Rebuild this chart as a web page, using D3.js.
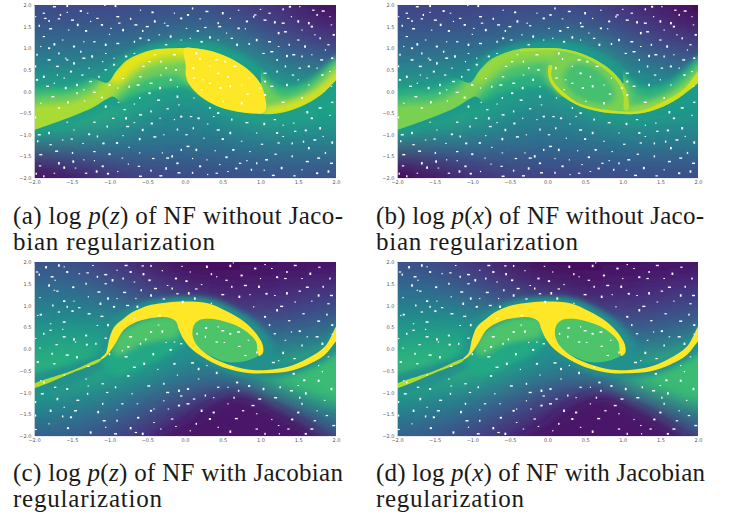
<!DOCTYPE html>
<html><head><meta charset="utf-8">
<script src="https://cdnjs.cloudflare.com/ajax/libs/d3/7.8.5/d3.min.js"></script>
<style>html,body{margin:0;background:#fff}svg{display:block}</style></head><body>
<svg id="c" width="730" height="516"></svg>
<script>
const gridX=[-2,-1.5,-1,-.5,0,.5,1,1.5,2];
const gridY=[2,1.5,1,.5,0,-.5,-1,-1.5,-2];
const tickValues=[-2,-1.5,-1,-.5,0,.5,1,1.5,2];

const gridA=[
[.22,.21,.21,.23,.24,.21,.15,.08,.00],
[.27,.27,.27,.28,.31,.29,.22,.15,.08],
[.36,.36,.37,.40,.50,.50,.34,.26,.20],
[.47,.47,.48,.55,.62,.62,.48,.40,.38],
[.60,.60,.62,.62,.52,.60,.60,.56,.62],
[.62,.66,.62,.50,.46,.52,.62,.60,.56],
[.52,.50,.45,.42,.40,.42,.45,.48,.48],
[.12,.20,.28,.30,.31,.31,.33,.33,.33],
[.02,.04,.11,.19,.20,.22,.25,.25,.24]];
const gridB=[
[.20,.19,.19,.21,.22,.20,.13,.06,.00],
[.25,.25,.25,.27,.29,.27,.20,.13,.07],
[.33,.33,.35,.38,.48,.48,.32,.24,.19],
[.45,.45,.46,.53,.60,.64,.46,.38,.35],
[.58,.58,.60,.60,.50,.64,.56,.52,.56],
[.60,.64,.60,.48,.44,.50,.60,.56,.53],
[.50,.47,.43,.40,.38,.40,.43,.45,.45],
[.10,.18,.26,.28,.29,.29,.31,.31,.31],
[.01,.03,.09,.17,.18,.20,.23,.23,.22]];
const gridC=[
[.25,.23,.15,.06,.02,.02,.04,.04,.04],
[.33,.33,.25,.16,.08,.06,.08,.10,.12],
[.42,.42,.38,.28,.22,.14,.14,.18,.22],
[.50,.52,.50,.50,.48,.30,.28,.28,.35],
[.58,.62,.60,.60,.50,.50,.46,.42,.52],
[.66,.64,.60,.52,.42,.40,.50,.66,.72],
[.55,.50,.45,.36,.25,.16,.28,.52,.62],
[.42,.40,.33,.22,.10,.03,.05,.20,.42],
[.30,.28,.20,.12,.05,.01,.00,.03,.25]];
const gridD=[
[.24,.22,.13,.05,.02,.02,.04,.04,.04],
[.32,.32,.23,.14,.07,.06,.08,.10,.12],
[.42,.42,.37,.28,.22,.14,.14,.18,.22],
[.52,.54,.52,.50,.48,.30,.28,.28,.35],
[.60,.64,.62,.60,.50,.50,.46,.42,.54],
[.68,.66,.62,.52,.42,.40,.50,.68,.74],
[.56,.50,.45,.34,.23,.14,.26,.52,.64],
[.42,.38,.31,.20,.09,.03,.04,.17,.40],
[.30,.26,.18,.11,.05,.01,.00,.03,.23]];

const glowS=[[-2,0],[-1.5,.15],[-1.1,.3],[-1.05,.45],[-.85,.8],[-.4,1.1],[0,1.17],[.4,1.08],[.9,.68],[1.15,.2],[1.4,0],[1.7,.2],[2.1,.8],[2.1,0],[1.5,-.55],[1,-.65],[.5,-.5],[.1,-.1],[-.1,.05],[-.7,-.25],[-1,-.42],[-1.5,-.75],[-2,-1]];
const bodyClipS=[[-2.1,.35],[-1.3,.35],[-1.04,.2],[-.99,.26],[-.92,.45],[-.77,.72],[-.59,.88],[-.37,.98],[-.15,1],[.12,1],[.38,.92],[.65,.72],[.87,.45],[1,.18],[1.03,.6],[1.9,.9],[2.1,.9],[2.1,.45],[2,.26],[1.8,-.08],[1.53,-.35],[1.22,-.51],[.92,-.51],[.65,-.45],[.43,-.34],[.21,-.12],[.1,-.2],[-.2,-.6],[-.75,-.4],[-.95,-.12],[-1.03,-.17],[-1.2,-.35],[-1.56,-.62],[-2,-.89],[-2.1,-.95]];
const bandL1=[[-2.1,-.05],[-1.5,.1],[-1.15,.35],[-.9,.6],[-.5,1],[0,1.2],[.5,1.1],[1,.35],[1.3,.08],[1.6,.2],[2.1,.85],[2.1,0],[1.5,-.5],[1,-.7],[.5,-.5],[.1,.1],[-.2,.1],[-.55,-.02],[-.8,-.2],[-1.1,-.5],[-1.5,-.75],[-2.1,-1]];
const bandL2=[[-2.1,-.25],[-1.5,-.06],[-1.2,.15],[-.95,.55],[-.5,1],[0,1.2],[.5,1.1],[1,.4],[1.25,-.12],[1.6,.03],[2.1,.72],[2.1,.05],[1.5,-.5],[1,-.7],[.5,-.4],[.1,.1],[-.1,.38],[-.5,.3],[-.75,.05],[-.95,-.25],[-1.5,-.72],[-2.1,-.95]];
const bandL3=[[-2.1,-.42],[-1.5,-.24],[-1.2,-.02],[-1.05,.3],[-.85,.7],[-.5,1],[0,1.2],[.2,1.2],[.1,.72],[-.1,.68],[-.5,.55],[-.72,.3],[-.9,.02],[-1,-.2],[-1.3,-.5],[-1.6,-.72],[-2.1,-.97]];
const arcTopS=[[-1,.3],[-.8,.8],[-.4,1.1],[.1,1.15],[.1,.86],[-.2,.85],[-.45,.74],[-.7,.5],[-.88,.2]];
const tailS=[[1.02,-.56],[1.5,-.45],[1.85,-.1],[2.1,.2],[2.1,.62],[1.85,.2],[1.6,-.1],[1.3,-.29],[1.08,-.38]];
const lensA=[[.01,.6],[-.01,.99],[.12,1],[.38,.92],[.65,.72],[.87,.45],[1,.18],[1.06,-.12],[1.07,-.42],[1.02,-.5],[.92,-.51],[.65,-.45],[.43,-.34],[.21,-.12],[.05,.18],[.01,.38]];
const lensOuterB=[[.03,.7],[.3,1],[.65,.72],[.87,.45],[1.05,.1],[1.05,-.48],[.65,-.45],[.21,-.12],[.03,.18]];
const lensInnerB=[[.2,.35],[.35,.65],[.6,.58],[.8,.3],[.9,0],[.85,-.28],[.55,-.25],[.3,-.02]];
const rimTopB=[[-.37,.98],[-.15,1],[.12,1],[.38,.92],[.65,.72],[.87,.45],[1,.18],[1.07,-.12],[1.07,-.42],[1.02,-.42],[1.01,-.12],[.95,.16],[.83,.41],[.62,.67],[.36,.87],[.12,.95],[-.15,.95],[-.37,.93]];
const rimLowB=[[.02,.6],[.01,.38],[.05,.18],[.21,-.12],[.43,-.34],[.65,-.45],[.92,-.51],[1.22,-.51],[1.53,-.35],[1.8,-.08],[2.08,.36],[2.08,.62],[1.8,.04],[1.53,-.24],[1.22,-.45],[.92,-.45],[.65,-.39],[.43,-.28],[.25,-.07],[.09,.2],[.05,.38],[.06,.6]];

const glowSpiral=[[-2.1,-.7],[-1.5,-.35],[-1.15,-.1],[-1.08,.3],[-.98,.62],[-.8,.86],[-.45,1.12],[0,1.2],[.35,1.16],[.65,.94],[.95,.6],[1.15,.15],[1.2,-.25],[1.5,-.25],[1.85,.12],[2.1,.75],[2.1,.1],[1.62,-.47],[1.09,-.66],[.56,-.55],[.1,-.16],[-.3,-.1],[-1,-.4],[-1.5,-.82],[-2.1,-1.05]];
const wedgeDark=[[-.5,-2.3],[0,-1.75],[.35,-1.3],[.7,-1.02],[1.1,-1.3],[1.65,-1.85],[1.95,-2.3]];
const wedgeGreen=[[1,-.58],[1.4,-.52],[1.7,-.3],[2.15,.1],[2.15,-1.25],[1.65,-1],[1.2,-.75],[.95,-.62]];
const underWide=[[-1.1,-.3],[-.9,.2],[-.5,.7],[-.1,.7],[0,.2],[-.2,-.1],[-.5,-.35],[-.9,-.6]];
const underNear=[[-.95,.15],[-.7,.55],[-.3,.75],[-.05,.65],[-.1,.3],[-.35,.2],[-.6,.1],[-.9,-.15]];
const innerDisc=[[.08,.5],[.2,.72],[.4,.74],[.62,.64],[.82,.45],[.98,.18],[1,-.1],[.85,-.25],[.56,-.3],[.3,-.12],[.12,.1],[.06,.3]];
const spiralBand=[[-1.12,-.22],[-1.05,-.1],[-1,.25],[-.94,.5],[-.81,.7],[-.68,.86],[-.46,1.01],[-.23,1.07],[0,1.09],[.3,1.05],[.56,.86],[.78,.63],[.94,.36],[1.03,.09],[1.03,-.1],[.98,-.16],[.96,-.06],[.94,.17],[.78,.44],[.6,.59],[.38,.69],[.2,.67],[.12,.55],[.1,.32],[.16,.08],[.34,-.18],[.56,-.35],[.83,-.47],[1.09,-.48],[1.36,-.41],[1.62,-.22],[1.85,.05],[2,.52],[2.08,.75],[2.08,.3],[2,.17],[1.85,-.14],[1.62,-.37],[1.36,-.52],[1.09,-.56],[.83,-.55],[.56,-.45],[.3,-.25],[.1,-.02],[-.01,.2],[-.08,.44],[-.12,.63],[-.21,.72],[-.41,.72],[-.63,.63],[-.81,.44],[-.92,.13],[-1.03,-.14],[-1.12,-.25]];
const thinLine=[[-2.05,-.91],[-1.5,-.55],[-1.12,-.27],[-1.12,-.23],[-1.5,-.5],[-2.05,-.85]];

const wideLayersA=[];
const underLayersA=[[.56,glowS]];
const bodyLayersA=[[.68,bandL1],[.78,bandL2],[.87,bandL3],[.96,arcTopS],[.93,tailS]];
const crispLayersA=[[1,lensA]];
const underLayersB=[[.54,glowS]];
const bodyLayersB=[[.63,bandL1],[.71,bandL2],[.80,bandL3],[.84,arcTopS],[.84,tailS],[.80,lensOuterB],[.70,lensInnerB]];
const crispLayersB=[[.88,rimTopB],[.92,rimLowB]];
const wideLayersC=[[.06,wedgeDark],[.68,wedgeGreen]];
const underLayersC=[[.50,glowSpiral],[.60,underWide],[.72,underNear]];
const crispLayersC=[[.72,innerDisc],[.88,thinLine],[1,spiralBand]];

const speckTop=[[-1.85,1.69],[-1.80,1.63],[-1.73,1.96],[-1.56,1.98],[-1.56,1.83],[-1.38,1.86],[-1.29,1.81],[-1.16,1.69],[-1.06,2],[-.89,1.73],[-.92,1.98],[-.59,1.88],[-.43,1.83],[-.27,1.58],[-.23,1.52],[-.56,1.40],[-.5,1.5],[-.82,1.42],[-1,1.32],[-1.31,1.4],[-1.54,1.42],[-1.67,1.68],[-1.93,1.52],[-1.78,1.45],[-1.73,1.09],[-1.91,1.04],[-1.8,1],[-1.58,.77],[-1.56,.73],[-1.67,.88],[-1.34,.77],[-1.23,.81],[-.94,.77],[-.78,.81],[-1.05,.88],[-1.2,1.15],[-1.38,.92],[-1.69,.58],[-1.87,.34],[-1.69,.38],[-1.51,.46],[-1.27,.54],[-1.05,.5],[-1.14,.34],[-1.25,.23],[-1.43,.15],[-1.73,.19],[-1.96,.27],[-.67,.88],[-.47,.69],[-.32,.69],[-.14,.85],[-.19,1.27],[-.05,1.19],[-.59,1.23],[-.32,.38],[-.59,.34],[-.74,.11],[-.45,.19],[-.19,.27],[-.89,.08],
[.04,1.77],[.2,1.68],[.27,1.48],[.44,1.58],[.46,1.5],[.33,1.25],[.07,1.23],[.22,1.15],[.71,1.88],[.93,1.77],[.91,1.73],[1.06,1.65],[1.19,1.6],[1.41,1.73],[1.39,1.96],[1.52,1.96],[1.7,1.88],[1.75,1.77],[1.83,1.86],[1.64,1.58],[1.55,1.42],[1.68,1.5],[1.94,1.54],[1.9,1.08],[1.79,1.23],[1.33,1.38],[1.24,1.35],[.8,1.45],[.71,1.46],[1.24,1.04],[1.04,.88],[1.22,.73],[1.44,.85],[1.59,1.04],[1.86,.96],[1.64,.58],[1.75,.54],[1.52,.54],[1.33,.58],[1.06,.42],[.69,1.08],[.44,1.19],[1.06,.23],[1.64,.15],[.99,.08],[1.55,.81],[1.81,.73],[.15,.88],[.33,.58],[.44,.42],[.24,.27],[.33,.19],[.57,.34],[.66,.58],[.11,.54],[.75,.15],[.53,.69],
[-1.91,-.27],[-1.67,-.38],[-1.43,-.04],[-1.2,-.02],[-1.05,-.35],[-.67,-.29],[-.47,-.04],[-.08,-.31],[-.23,-.4],[-.45,-.46],[-.59,-.54],[-.78,-.62],[-.14,-.65],[-.05,-.58],[-1.56,-.71],[-1.2,-.71],[-1.03,-.81],[-1.93,-1],[-1.8,-.96],[-1.47,-.89],[-1.27,-.99],[-1.62,-1.12],[-1.78,-1.23],[-1.16,-1.04],[-.76,-.81],[-.56,-.89],[-.28,-1],[-.9,-1.19],[-.74,-1.29],[-1.2,-1.39],[-1.49,-1.42],[-1.91,-1.46],[-1.67,-1.66],[-1.34,-1.58],[-1.09,-1.73],[-.83,-1.54],[-.61,-1.73],[-.45,-1.83],[-.23,-1.54],[-.17,-1.5],[-.3,-1.42],[-.1,-1.66],[-1.73,-1.89],[-1.31,-1.89],[-1.87,-1.96],[-.59,-1.96],[-1.6,-1.76],[-.89,-1.85],
[.44,-.5],[.38,-.58],[.02,-1],[.11,-.85],[.44,-.89],[.6,-.96],[.95,-.96],[1.22,-.96],[1.3,-1.04],[1.46,-.92],[1.57,-1.16],[1.79,-.38],[1.79,-.85],[1.83,-1.04],[1.68,-.62],[1.44,-.73],[1.19,-.65],[.33,-.38],[.04,-1.27],[.15,-1.35],[.4,-1.37],[.64,-1.35],[.86,-1.39],[1.24,-1.19],[1.86,-1.42],[1.77,-1.54],[1.64,-1.31],[.29,-1.58],[.2,-1.73],[.46,-1.69],[.73,-1.66],[.95,-1.66],[1.08,-1.58],[1.28,-1.77],[1.55,-1.81],[1.75,-1.89],[.57,-1.85],[.42,-1.89],[.88,-1.81],[1.94,-1.66],[.75,-.27],[.51,-.23],[1.06,-.08],
[-1.98,1.73],[-1.87,1.81],[-1.65,1.77],[-1.49,1.65],[-1.42,1.54],[-1.25,1.62],[-1.1,1.54],[-.98,1.46],[-.87,1.58],[-.72,1.68],[-.65,1.54],[-.4,1.62],[-.14,1.81],[-.05,1.69],[-.34,1.31],[-.48,1.19],[-.67,1.15],[-.89,1.11],[-1.05,1.08],[-1.34,1.15],[-1.47,1.04],[-1.62,1.19],[-1.87,1.27],[-1.96,.85],[-1.8,.73],[-1.47,.65],[-1.09,.69],[-.94,.62],[-1.6,.31],[-1.36,.38],[-1.98,.58],[-1.82,.12],[-1.58,.08],[-1.34,.04],[-1,.15],[-.82,.3],[-.55,.58],[-.25,.54],[-.62,.15],[-.33,.08],[-.1,.11],[-.12,.5],[-.4,.85],[-.25,1.08],
[.1,1.92],[.29,1.85],[.5,1.81],[.6,1.69],[.82,1.62],[1.0,1.9],[1.12,1.81],[1.3,1.9],[1.3,1.58],[1.5,1.62],[1.92,1.73],[1.97,1.31],[1.72,1.31],[1.5,1.19],[1.38,1.08],[1.12,1.15],[.95,1.19],[.55,1.35],[.17,1.4],[.02,1.46],[.62,1.23],[.85,1.1],[1.15,.92],[1.35,.82],[1.68,.85],[1.95,.77],[1.92,.46],[1.43,.38],[1.22,.46],[1.15,.12],[1.35,.15],[1.5,.27],[1.82,.38],[1.94,.12],[.12,.31],[.2,.75],[.42,.73],[.6,.12],[.85,.31],[.47,.08],[.22,.04],[.83,-.06],
[-1.98,-.6],[-1.75,-.12],[-1.55,-.25],[-1.33,-.22],[-1.1,-.14],[-.88,-.25],[-.8,-.42],[-.6,-.15],[-.35,-.2],[-.1,-.12],[-.33,-.62],[-.44,-.74],[-.67,-.72],[-.95,-.62],[-.1,-.88],[-.4,-1.05],[-.6,-1.1],[-.82,-1.02],[-1.08,-1.2],[-1.35,-1.2],[-1.5,-1.1],[-1.95,-1.15],[-1.7,-1.38],[-1.48,-1.62],[-1.2,-1.6],[-1.0,-1.45],[-.6,-1.42],[-.42,-1.55],[-.05,-1.35],[-.08,-1.88],[-.25,-1.78],[-.75,-1.68],[-1.02,-1.9],[-1.45,-1.77],[-1.92,-1.72],[-1.97,-1.9],[-.32,-1.95],[-1.17,-1.85],
[.12,-.15],[.18,-.62],[.3,-.75],[.08,-.58],[.62,-.65],[.82,-.72],[1.05,-.75],[1.3,-.78],[1.6,-.9],[1.92,-.55],[1.95,-.25],[1.55,-.15],[1.3,-.25],[1.62,-.48],[.25,-1.08],[.5,-1.1],[.75,-1.15],[1.02,-1.22],[1.42,-1.2],[1.72,-1.12],[1.95,-1.18],[.1,-1.55],[.55,-1.52],[.82,-1.6],[1.2,-1.45],[1.42,-1.5],[1.62,-1.62],[1.9,-1.85],[.3,-1.92],[.68,-1.78],[1.05,-1.82],[1.45,-1.95],[.1,-1.88],[1.17,-1.94]];
const speckBottom=[[-1.96,1.77],[-1.93,1.71],[-1.76,1.66],[-1.67,1.92],[-1.6,1.89],[-1.56,1.77],[-1.4,1.73],[-1.29,1.75],[-1.16,1.66],[-1.05,1.71],[-.96,1.58],[-.9,1.81],[-.72,1.77],[-.67,1.54],[-.56,1.91],[-.45,1.91],[-.39,1.39],[-.45,1.23],[-.65,1.16],[-.47,1.58],[-.23,1.46],[-.1,1.27],[-.17,1.39],[-.76,1],[-.63,.97],[-1.47,1.1],[-1.49,.87],[-1.73,1.35],[-1.69,1.33],[-1.31,1.5],[-1.14,1.31],[-1.8,1.46],[-1.95,.77],[-1.91,.79],[-1.78,.58],[-1.67,.85],[-1.56,.97],[-1.27,.81],[-1.12,1.04],[-.9,1.16],[-.94,.97],[-1.98,.24],[-1.78,.43],[-1.87,.35],[-1.6,.28],[-1.47,.22],[-1.45,.16],[-1.31,.31],[-1.16,.54],[-1.05,.25],[-.52,.22],[-.34,.77],[-.03,1.08],[-.67,.7],[-.45,.39],[-.14,.16],[-.05,.12],[-.59,.12],[-1.6,.62],
[.6,1.91],[.64,1.98],[.93,1.85],[1.06,1.94],[1.33,1.62],[1.35,1.77],[1.46,1.92],[1.66,1.73],[.07,1.77],[.02,1.56],[.22,1.48],[.55,1.58],[.62,1.43],[.8,1.46],[.98,1.43],[.86,1.25],[1.08,1.27],[1.19,1.23],[1.52,1.33],[1.83,1.43],[1.94,1.23],[1.77,1.23],[.91,.97],[1.06,.74],[1.46,1.08],[1.57,.81],[1.88,.79],[1.77,.64],[1.22,.89],[1.41,.39],[1.52,.41],[1.33,.2],[1.19,.35],[1.55,.08],[1.75,.28],[.13,1.16],[.44,.51],[.6,.35],[.84,.2],[.42,.16],[.27,.28],[.71,.39],[.29,1.89],[.42,1.66],[.75,1.69],[1.15,1.85],[1.9,1.04],
[-1.76,-.11],[-1.56,-.14],[-1.43,-.19],[-.83,-.04],[-.19,-.02],[-1.91,-.73],[-1.73,-.34],[-1.87,-.77],[-1.89,-1.03],[-1.69,-1.15],[-1.6,-1.34],[-1.56,-.92],[-1.31,-.69],[-1.09,-.8],[-.92,-.88],[-.67,-.42],[-.54,-.34],[-.36,-.47],[-.14,-.34],[-.7,-1.03],[-1.03,-1],[-1.29,-1.03],[-1.45,-1.42],[-1.78,-1.42],[-.41,-1.38],[-.45,-1.42],[-.63,-1.26],[-.83,-1.26],[-1.09,-1.26],[-.23,-1],[-.08,-.96],[-.28,-1.19],[-.08,-1.3],[-.41,-1.69],[-.65,-1.92],[-.9,-1.65],[-1.07,-1.65],[-1.25,-1.92],[-1.8,-1.72],[-1.51,-1.57],[-.32,-1.84],[-.17,-1.61],[-1.98,-1.53],[-.92,-1.95],[-.56,-1.95],
[.07,-1.88],[.38,-1.46],[.44,-1.8],[.77,-1.42],[.71,-.96],[.99,-1.15],[1.04,-.92],[.57,-.88],[.69,-.77],[.18,-.69],[.44,-.88],[1.26,-.88],[1.41,-.96],[1.77,-.73],[1.75,-1.42],[1.5,-1.46],[1.24,-1.76],[.95,-1.84],[1.06,-1.95],[1.68,-1.84],[1.94,-.92],[1.77,-.38],[1.44,-.57],[1.24,-.27],[.8,-.15],[.95,-.08],[1.17,-.31],[1.3,-.09],[.57,-1.26],[.33,-1.61],[.95,-1.49],[1.37,-1.84],[.27,-1.07],[.04,-1.26],[.18,-.46],[.29,-.38],[.04,-.92],[1.5,-.84],[1.88,-1.53],[1.55,-1.26],[1.97,-1.76],
[-1.84,1.88],[-1.72,1.58],[-1.48,1.42],[-1.22,1.92],[-1.05,1.5],[-.82,1.62],[-.78,1.92],[-.55,1.72],[-.3,1.8],[-.12,1.62],[-.04,1.9],[-.28,1.15],[-.58,1.35],[-.8,1.3],[-1.02,1.16],[-1.28,1.2],[-1.6,1.1],[-1.92,1.18],[-1.4,.95],[-1.75,1],[-1.1,.75],[-1.02,.55],[-1.62,.45],[-1.3,.1],[-1.92,.02],[-1.7,.1],[-1.18,.12],[-.72,.28],[-.3,.4],[-.25,.15],[-.75,.05],[-.35,.55],
[.15,1.38],[.35,1.72],[.5,1.25],[.72,1.2],[1.0,1.62],[1.22,1.65],[1.55,1.62],[1.78,1.88],[1.92,1.62],[1.62,1.42],[1.35,1.28],[1.68,1.1],[1.95,.55],[1.62,.28],[1.38,.65],[1.12,.55],[1.28,.98],[1.82,.12],[1.95,.34],[.28,.48],[.52,.15],[.72,.06],[.16,.35],[.5,.42],[.05,1.28],[.35,1.05],
[-1.95,-.3],[-1.6,-.6],[-1.28,-.4],[-1,-.12],[-.78,-.18],[-.42,-.12],[-.1,-.6],[-.75,-.62],[-1.28,-.85],[-1.72,-.88],[-1.98,-1.22],[-1.42,-1.18],[-1.15,-1.45],[-.9,-1.4],[-.62,-1.58],[-.22,-1.38],[-.05,-1.08],[-.28,-.8],[-.48,-.85],[-.72,-1.82],[-1.05,-1.8],[-1.55,-1.82],[-.12,-1.78],[-1.98,-1.85],[-1.62,-1.55],
[.1,-.32],[.42,-.55],[.62,-.42],[.85,-.85],[.38,-1.12],[.12,-1.15],[.65,-1.12],[1.2,-1.12],[1.6,-1.02],[1.82,-.52],[1.58,-.72],[1.9,-.18],[1.45,-.22],[.15,-1.72],[.68,-1.6],[.6,-1.9],[1.15,-1.62],[1.42,-1.62],[1.85,-1.18],[1.72,-1.65],[1.52,-1.12],[.9,-1.3],[.22,-1.42],[1.25,-1.95],[1.6,-1.95]];

const captionsA=["(a) ","p(z)"," of NF without Jaco-","bian regularization"];
const captionsB=["(b) ","p(x)"," of NF without Jaco-","bian regularization"];
const captionsC=["(c) ","p(z)"," of NF with Jacobian","regularization"];
const captionsD=["(d) ","p(x)"," of NF with Jacobian","regularization"];

const panels=[
 {id:"a",x0:34,x1:336,y0:178,y1:5,grid:gridA,wide:wideLayersA,under:underLayersA,body:bodyLayersA,crisp:crispLayersA,speck:speckTop,cap:captionsA,tx:13,w1:330,w2:202,by:224},
 {id:"b",x0:397,x1:698,y0:178,y1:5,grid:gridB,wide:wideLayersA,under:underLayersB,body:bodyLayersB,crisp:crispLayersB,speck:speckTop,cap:captionsB,tx:376,w1:328,w2:202,by:224},
 {id:"c",x0:34,x1:336,y0:436,y1:262,grid:gridC,wide:wideLayersC,under:underLayersC,body:[],crisp:crispLayersC,speck:speckBottom,cap:captionsC,tx:13,w1:330,w2:149,by:481},
 {id:"d",x0:397,x1:698,y0:436,y1:262,grid:gridD,wide:wideLayersC,under:underLayersC,body:[],crisp:crispLayersC,speck:speckBottom,cap:captionsD,tx:376,w1:329,w2:148,by:481}];

const svg=d3.select("#c");
const defs=svg.append("defs");
const mk=(id,sx,sy)=>defs.append("filter").attr("id",id).attr("x","-30%").attr("y","-30%").attr("width","160%").attr("height","160%").append("feGaussianBlur").attr("stdDeviation",sx+" "+sy);
mk("bg",20,12);mk("wide",10,7);mk("soft",3.5,2.5);mk("crisp",.5,.5);
const color=d3.scaleSequential(d3.interpolateViridis).domain([0,1]);
const fmt=d3.format(".1f");
const serif="'Liberation Serif',serif";
const speckW=[2.4,1.4,3,1.8,1.2,2.2,1.6];
const speckH=[1.2,2,1.4,2.4,1.2,1.8,1];

panels.forEach(p=>{
 const x=d3.scaleLinear().domain([-2,2]).range([p.x0,p.x1]);
 const y=d3.scaleLinear().domain([-2,2]).range([p.y0,p.y1]);
 const line=d3.line().x(d=>x(d[0])).y(d=>y(d[1])).curve(d3.curveCatmullRomClosed.alpha(.5));
 defs.append("clipPath").attr("id","clip"+p.id).append("rect").attr("x",p.x0).attr("y",p.y1).attr("width",p.x1-p.x0).attr("height",p.y0-p.y1);
 defs.append("clipPath").attr("id","body"+p.id).append("path").attr("d",line(bodyClipS));
 const root=svg.append("g").attr("clip-path","url(#clip"+p.id+")");
 const bg=root.append("g").attr("filter","url(#bg)");
 const dx=x(.5)-x(0),dy=y(0)-y(.5),ext=70;
 p.grid.forEach((row,r)=>row.forEach((v,c)=>{
  const cx=x(gridX[c]),cy=y(gridY[r]);
  const l=c===0?cx-ext:cx-dx/2,ri=c===8?cx+ext:cx+dx/2,t=r===0?cy-ext:cy-dy/2,b=r===8?cy+ext:cy+dy/2;
  bg.append("rect").attr("x",l).attr("y",t).attr("width",ri-l+.5).attr("height",b-t+.5).attr("fill",color(v));
 }));
 if(p.wide.length){
  const gw=root.append("g").attr("filter","url(#wide)");
  p.wide.forEach(([v,pts])=>gw.append("path").attr("d",line(pts)).attr("fill",color(v)));
 }
 const gu=root.append("g").attr("filter","url(#soft)");
 p.under.forEach(([v,pts])=>gu.append("path").attr("d",line(pts)).attr("fill",color(v)));
 if(p.body.length){
  const gb=root.append("g").attr("clip-path","url(#body"+p.id+")").append("g").attr("filter","url(#soft)");
  p.body.forEach(([v,pts])=>gb.append("path").attr("d",line(pts)).attr("fill",color(v)));
 }
 const gc=root.append("g").attr("filter","url(#crisp)");
 p.crisp.forEach(([v,pts])=>gc.append("path").attr("d",line(pts)).attr("fill",color(v)));
 root.append("g").selectAll("rect").data(p.speck).join("rect")
  .attr("x",(d,i)=>x(d[0])-speckW[i%7]/2).attr("y",(d,i)=>y(d[1])-speckH[i%7]/2).attr("width",(d,i)=>speckW[i%7]).attr("height",(d,i)=>speckH[i%7]).attr("fill","#fff");
 const ax=svg.append("g").attr("transform",`translate(0,${p.y0})`).call(d3.axisBottom(x).tickValues(tickValues).tickSize(0).tickPadding(2.5).tickFormat(d=>fmt(d).replace("-","\u2212")));
 const ay=svg.append("g").attr("transform",`translate(${p.x0},0)`).call(d3.axisLeft(y).tickValues(tickValues).tickSize(0).tickPadding(2.5).tickFormat(d=>fmt(d).replace("-","\u2212")));
 [ax,ay].forEach(a=>{a.selectAll("text").attr("font-family","'DejaVu Sans',sans-serif").attr("font-size",5).attr("fill","#555");a.select(".domain").attr("stroke","#e4e4e4").attr("stroke-width",.8);});
 const t1=svg.append("text").attr("x",p.tx).attr("y",p.by).attr("font-family",serif).attr("font-size",25).attr("fill","#1a1a1a").attr("textLength",p.w1).attr("lengthAdjust","spacing");
 t1.append("tspan").text(p.cap[0]+"log ");
 const m=p.cap[1];
 t1.append("tspan").attr("font-style","italic").text(m[0]);
 t1.append("tspan").text(m[1]);
 t1.append("tspan").attr("font-style","italic").text(m[2]);
 t1.append("tspan").text(m[3]+p.cap[2]);
 svg.append("text").attr("x",p.tx).attr("y",p.by+26).attr("font-family",serif).attr("font-size",25).attr("fill","#1a1a1a").attr("textLength",p.w2).attr("lengthAdjust","spacing").text(p.cap[3]);
});
</script></body></html>
